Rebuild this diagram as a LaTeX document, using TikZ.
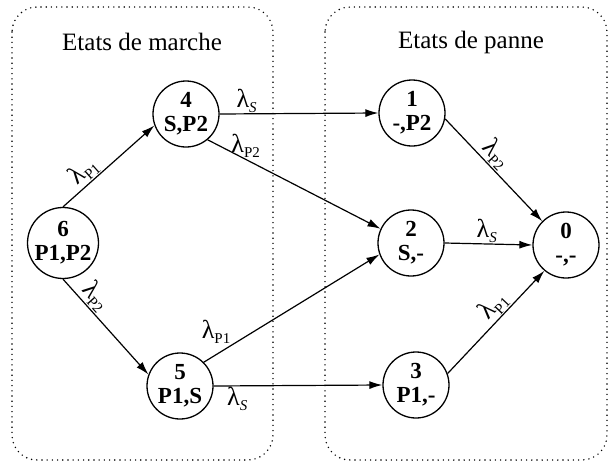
\documentclass[tikz,border=0pt]{standalone}
\usepackage{fontspec}
\setmainfont{Liberation Serif}
\usetikzlibrary{arrows.meta}
\newcommand{\lamb}[1]{λ\raisebox{-0.4ex}{\fontsize{15}{15}\selectfont #1}}
\tikzset{
  state/.style={draw, circle, line width=1.3pt, minimum size=66pt, inner sep=0pt,
    align=center, font=\fontsize{23}{24}\selectfont\bfseries},
  trans/.style={-{Latex[length=13pt,width=8pt]}, line width=1.2pt},
  rate/.style={font=\fontsize{26}{26}\selectfont, inner sep=1pt},
  zone/.style={line width=1.6pt, line cap=round, dash pattern=on 0pt off 5.2pt, rounded corners=25pt},
  title/.style={font=\fontsize{25}{25}\selectfont}
}
\begin{document}
\begin{tikzpicture}[x=1pt,y=-1pt]
  \useasboundingbox (0,0) rectangle (610,466);
  \draw[zone] (12,7) rectangle (273,460);
  \draw[zone] (325,7) rectangle (607,460);
  \node[title] (tmarche) at (142,42) {Etats de marche};
  \node[title] (tpanne) at (471,42) {Etats de panne};

  \node[state] (n6) at (63,243) {6\\P1,P2};
  \node[state] (n4) at (186,114) {4\\S,P2};
  \node[state] (n5) at (180,386) {5\\P1,S};
  \node[state] (n1) at (412,113) {1\\-,P2};
  \node[state] (n2) at (411,243) {2\\S,-};
  \node[state] (n3) at (416,385) {3\\P1,-};
  \node[state] (n0) at (566,245) {0\\-,-};

  \draw[trans] (n6.north) -- node[rate, sloped, above, pos=0.32] (r64) {\lamb{P1}} (n4.200);
  \draw[trans] (n6.south) -- node[rate, sloped, above, pos=0.27] (r65) {\lamb{P2}} (n5.160);
  \draw[trans] (n4.east) -- node[rate, above, pos=0.17] (r41) {\lamb{\textit{S}}} (n1.west);
  \draw[trans] (n4.310) -- node[rate, above, pos=0.22] (r42) {\lamb{P2}} (n2.155);
  \draw[trans] (n5.45) -- node[rate, above left, pos=0.16] (r52) {\lamb{P1}} (n2.200);
  \draw[trans] (n5.east) -- node[rate, below, pos=0.14] (r53) {\lamb{\textit{S}}} (n3.west);
  \draw[trans] (n1.-10) -- node[rate, sloped, above, pos=0.43] (r10) {\lamb{P2}} (n0.135);
  \draw[trans] (n2.east) -- node[rate, above, pos=0.48] (r20) {\lamb{\textit{S}}} (n0.west);
  \draw[trans] (n3.20) -- node[rate, sloped, above, pos=0.57] (r30) {\lamb{P1}} (n0.230);
\end{tikzpicture}
\end{document}
